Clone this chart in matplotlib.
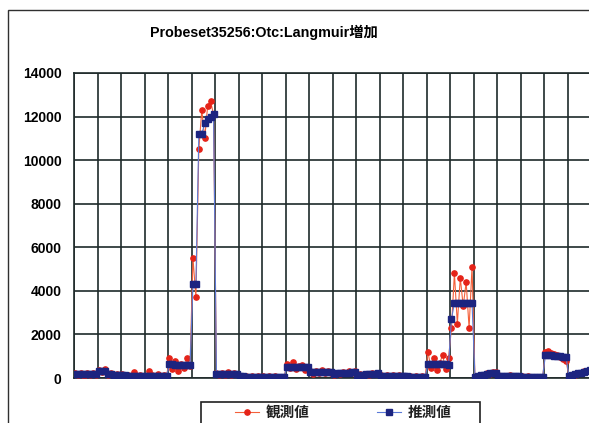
import matplotlib
matplotlib.use("Agg")
import matplotlib.pyplot as plt
import numpy as np
from matplotlib.patches import Rectangle

plt.rcParams['font.family'] = ['Liberation Sans', 'Noto Sans CJK JP', 'DejaVu Sans']

title = "Probeset35256:Otc:Langmuir増加"
labels = ["観測値", "推測値"]
per_block = 8
yticks = [0, 2000, 4000, 6000, 8000, 10000, 12000, 14000]

# observed values, one row per block
obs = [
    250, 140, 230, 110, 210, 150, 240, 160,
    380, 270, 400, 150, 230, 90, 180, 100,
    170, 60, 150, 80, 260, 70, 140, 50,
    60, 340, 130, 50, 180, 70, 140, 80,
    900, 420, 780, 330, 650, 480, 920, 560,
    5500, 3700, 10500, 12300, 11000, 12500, 12700, 12100,
    230, 120, 210, 140, 260, 150, 240, 170,
    110, 30, 90, 20, 80, 40, 100, 20,
    90, 20, 80, 30, 70, 20, 60, 30,
    650, 470, 720, 420, 560, 600, 380, 480,
    340, 200, 310, 230, 350, 210, 300, 240,
    160, 240, 190, 280, 220, 300, 250, 320,
    110, 180, 130, 200, 160, 240, 190, 230,
    140, 70, 130, 80, 150, 60, 120, 70,
    100, 40, 90, 30, 110, 40, 80, 20,
    1200, 450, 900, 350, 700, 1050, 400, 900,
    2300, 4800, 2500, 4600, 3300, 4400, 2300, 5100,
    30, 70, 150, 130, 220, 190, 280, 260,
    130, 50, 110, 40, 120, 60, 100, 40,
    80, 10, 70, 20, 60, 10, 50, 0,
    1200, 1250, 1150, 1120, 1050, 960, 860, 800,
    60, 150, 140, 240, 230, 310, 300, 380,
]

# estimated values, one row per block
est = [
    190, 190, 180, 180, 170, 170, 180, 190,
    330, 330, 320, 200, 170, 150, 140, 130,
    120, 120, 110, 110, 100, 100, 100, 100,
    110, 110, 100, 100, 100, 90, 90, 90,
    620, 620, 600, 600, 600, 600, 590, 590,
    4300, 4300, 11200, 11200, 11700, 11900, 12000, 12100,
    180, 180, 170, 170, 180, 190, 200, 200,
    70, 70, 60, 60, 60, 50, 50, 50,
    60, 60, 50, 50, 50, 50, 40, 40,
    520, 520, 510, 510, 500, 500, 490, 490,
    280, 280, 280, 270, 270, 270, 270, 260,
    200, 210, 220, 230, 240, 250, 260, 270,
    140, 150, 160, 170, 180, 190, 200, 210,
    110, 110, 100, 100, 100, 100, 90, 90,
    70, 70, 60, 60, 60, 60, 60, 50,
    640, 640, 630, 630, 620, 620, 620, 610,
    2700, 3450, 3450, 3450, 3450, 3450, 3450, 3450,
    60, 90, 120, 150, 180, 210, 240, 250,
    90, 90, 80, 80, 80, 80, 70, 70,
    50, 50, 40, 40, 40, 40, 30, 30,
    1060, 1060, 1050, 1000, 1000, 990, 960, 950,
    90, 130, 170, 210, 250, 290, 320, 350,
]

x = np.arange(len(obs))
nblocks = len(obs) // per_block + 1

W, H = 589, 423
fig = plt.figure(figsize=(W / 100, H / 100), dpi=100)
fig.patch.set_facecolor('white')

# chart frame
fig.add_artist(Rectangle((8 / W, -0.2), 2, 1.2 - 10 / H, transform=fig.transFigure,
                         fill=False, edgecolor='#303030', linewidth=1.0))

left, right, top, bottom = 74, 614.5, 73, 378
ax = fig.add_axes([left / W, 1 - bottom / H, (right - left) / W, (bottom - top) / H])

ax.plot(x, obs, color='#f4603a', linewidth=0.8, marker='o', markersize=3.8,
        markerfacecolor='#e52318', markeredgecolor='#e52318', label=labels[0], zorder=3)
ax.plot(x, est, color='#5b7ad8', linewidth=0.8, marker='s', markersize=3.8,
        markerfacecolor='#1c2480', markeredgecolor='#1c2480', label=labels[1], zorder=4)

ax.set_xlim(-0.5, nblocks * per_block - 0.5)
ax.set_ylim(0, 14000)
ax.set_yticks(yticks)
ax.set_yticklabels([str(v) for v in yticks], fontsize=10, fontweight='bold')
ax.set_xticks(np.arange(nblocks + 1) * per_block - 0.5)
ax.set_xticklabels([])
ax.tick_params(axis='both', length=0, pad=9)
ax.grid(True, color='#1e2a2a', linewidth=1.2, zorder=1)
ax.set_axisbelow(True)
for s in ['left', 'bottom', 'top']:
    ax.spines[s].set_color('#1e2a2a')
    ax.spines[s].set_linewidth(1.2)
ax.spines['right'].set_visible(False)

fig.text(264 / W, 1 - 32 / H, title, ha='center', va='center', fontsize=10.3, fontweight='bold')

# legend box runs off the bottom edge
fig.add_artist(Rectangle((201 / W, -0.1), (480 - 201) / W, 0.1 + 1 - 402 / H,
                         transform=fig.transFigure, fill=False,
                         edgecolor='#202020', linewidth=1.2))
leg = fig.legend(loc='upper left', bbox_to_anchor=(235 / W, 1 - 404 / H), ncol=2,
                 frameon=False, handlelength=1.65, columnspacing=4.6,
                 handletextpad=0.45, borderpad=0.0, borderaxespad=0.0,
                 prop={'weight': 'bold', 'size': 10.5,
                       'family': ['Noto Sans CJK JP', 'DejaVu Sans']})
for t in leg.get_texts():
    t.set_color('#202020')

fig.savefig('out.png', dpi=100)
